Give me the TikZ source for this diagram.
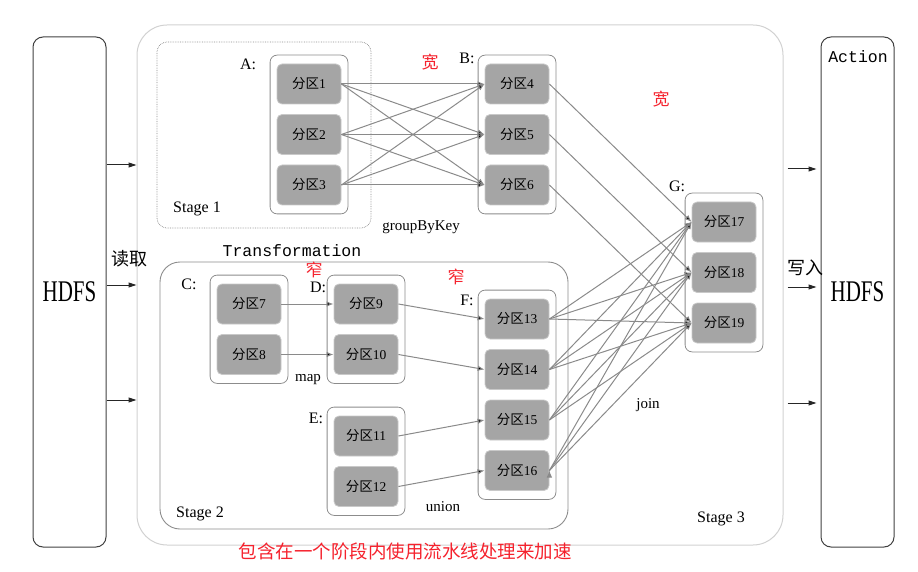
\documentclass[tikz,border=0pt]{standalone}
\usepackage{fontspec}
\setmainfont{Liberation Serif}
\setmonofont{Liberation Mono}
\newfontfamily\cjk{Noto Sans CJK SC}
\usetikzlibrary{positioning,fit,arrows.meta}

\definecolor{partgray}{HTML}{A5A5A5}
\definecolor{linegray}{HTML}{8A8A8A}
\definecolor{boxgray}{HTML}{8C8C8C}
\definecolor{hintred}{HTML}{F5222D}

\newcommand{\fq}[1]{{\cjk 分区}#1}

\tikzset{
  part/.style={rectangle, rounded corners=5pt, fill=partgray, draw=partgray!60,
    line width=0.8pt, minimum width=64pt, minimum height=40pt, inner sep=0pt,
    font=\fontsize{13.5}{15}\selectfont},
  group/.style={rectangle, rounded corners=7pt, draw=boxgray, line width=0.8pt,
    inner xsep=6.5pt, inner ysep=8.5pt},
  store/.style={rectangle, rounded corners=10pt, draw=black!75, line width=1pt,
    minimum width=73pt, minimum height=510pt, inner sep=0pt},
  lbl/.style={font=\fontsize{16}{18}\selectfont},
  op/.style={font=\fontsize{15}{17}\selectfont},
  hint/.style={text=hintred, font=\cjk\fontsize{17}{19}\selectfont},
  flow/.style={draw=linegray, line width=1pt, -{Latex[length=7pt,width=5.5pt]}},
  io/.style={draw=black!85, line width=1pt, -{Triangle[length=8pt,width=5pt]}},
}

\begin{document}
\begin{tikzpicture}[x=1pt,y=-1pt,node distance=50.5pt,on grid]
   \useasboundingbox (0,0) rectangle (918,572);

   % stages
   \node[rectangle, rounded corners=30pt, draw=black!18, line width=1pt,
     minimum width=646pt, minimum height=520pt, inner sep=0pt] (s3) at (460,285) {};
   \node[rectangle, rounded corners=10pt, draw=black!45, densely dotted, line width=0.7pt,
     minimum width=214pt, minimum height=186pt, inner sep=0pt] (s1) at (264,135) {};
   \node[rectangle, rounded corners=20pt, draw=boxgray, line width=0.9pt,
     minimum width=408pt, minimum height=267pt, inner sep=0pt] (s2) at (364,395.5) {};

   % HDFS
   \node[store] (hdfsL) at (69.5,292) {\scalebox{0.7}[1]{\fontsize{30}{30}\selectfont HDFS}};
   \node[store] (hdfsR) at (857.5,292) {\scalebox{0.7}[1]{\fontsize{30}{30}\selectfont HDFS}};
   \node[font=\ttfamily\fontsize{16.5}{18}\selectfont] (act) at (858,57) {Action};

   % partitions
   \node[part] (p1) at (309,84) {\fq1};
   \node[part] (p2) [below=of p1] {\fq2};
   \node[part] (p3) [below=of p2] {\fq3};
   \node[part] (p4) [right=208pt of p1] {\fq4};
   \node[part] (p5) [below=of p4] {\fq5};
   \node[part] (p6) [below=of p5] {\fq6};

   \node[part] (p7) at (249,304) {\fq7};
   \node[part] (p8) [below=of p7] {\fq8};
   \node[part] (p9) [right=117pt of p7] {\fq9};
   \node[part] (p10) [below=of p9] {\fq{10}};
   \node[part] (p11) at (366,436) {\fq{11}};
   \node[part] (p12) [below=of p11] {\fq{12}};

   \node[part] (p13) at (517,319) {\fq{13}};
   \node[part] (p14) [below=of p13] {\fq{14}};
   \node[part] (p15) [below=of p14] {\fq{15}};
   \node[part] (p16) [below=of p15] {\fq{16}};

   \node[part] (p17) at (724,222) {\fq{17}};
   \node[part] (p18) [below=of p17] {\fq{18}};
   \node[part] (p19) [below=of p18] {\fq{19}};

   % RDDs
   \node[group, fit=(p1)(p3)] (A) {};
   \node[group, fit=(p4)(p6)] (B) {};
   \node[group, fit=(p7)(p8)] (C) {};
   \node[group, fit=(p9)(p10)] (D) {};
   \node[group, fit=(p11)(p12)] (E) {};
   \node[group, fit=(p13)(p16)] (F) {};
   \node[group, fit=(p17)(p19)] (G) {};

   \node[lbl] (labA) at (248,64) {A:};
   \node[lbl] (labB) at (467,58) {B:};
   \node[lbl] (labC) at (189,284) {C:};
   \node[lbl] (labD) at (318,287) {D:};
   \node[lbl] (labE) at (316,418) {E:};
   \node[lbl] (labF) at (467,300) {F:};
   \node[lbl] (labG) at (677,186) {G:};

   \node[lbl] (st1) at (197,209) {Stage 1};
   \node[lbl] (st2) at (200,514) {Stage 2};
   \node[lbl] (st3) at (721,519) {Stage 3};

   \node[op] (gbk) at (421,227) {groupByKey};
   \node[op] (map) at (308,380) {map};
   \node[op] (uni) at (443,507) {union};
   \node[op] (join) at (648,405) {join};

   \node[font=\ttfamily\fontsize{16.5}{18}\selectfont] (trans) at (292,251) {Transformation};

   \node[hint] (w1) at (430,62) {宽};
   \node[hint] (w2) at (661,99) {宽};
   \node[hint] (n1) at (314,269.5) {窄};
   \node[hint] (n2) at (456,277) {窄};

   \node[font=\cjk\fontsize{18}{20}\selectfont] (rd) at (129,259) {读取};
   \node[font=\cjk\fontsize{18}{20}\selectfont] (wr) at (805,268) {写入};
   \node[font=\cjk\fontsize{18.5}{20}\selectfont, text=hintred] (note) at (405,551)
     {包含在一个阶段内使用流水线处理来加速};

   % dependencies
   \path[flow]
     (p1.east) edge (p4.west) edge (p5.west) edge (p6.west)
     (p2.east) edge (p4.west) edge (p5.west) edge (p6.west)
     (p3.east) edge (p4.west) edge (p5.west) edge (p6.west)
     (p7.east) edge (p9.west)
     (p8.east) edge (p10.west)
     (p9.east) edge (p13.west)
     (p10.east) edge (p14.west)
     (p11.east) edge (p15.west)
     (p12.east) edge (p16.west)
     (p4.east) edge (p17.west)
     (p5.east) edge (p18.west)
     (p6.east) edge (p19.west)
     (p13.east) edge (p17.west) edge (p18.west) edge (p19.west)
     (p14.east) edge (p17.west) edge (p18.west) edge (p19.west)
     (p15.east) edge (p17.west) edge (p18.west) edge (p19.west)
     (p16.east) edge (p17.west) edge (p18.west) edge (p19.west);

   % read / write
   \draw[io] (hdfsL.east |- 0,165) -- (s3.west |- 0,165);
   \draw[io] (hdfsL.east |- 0,285) -- (s3.west |- 0,285);
   \draw[io] (hdfsL.east |- 0,400) -- (s3.west |- 0,400);
   \draw[io, shorten >=4pt] ([xshift=4pt]s3.east |- 0,169) -- (hdfsR.west |- 0,169);
   \draw[io, shorten >=4pt] ([xshift=4pt]s3.east |- 0,287) -- (hdfsR.west |- 0,287);
   \draw[io, shorten >=4pt] ([xshift=4pt]s3.east |- 0,403) -- (hdfsR.west |- 0,403);
\end{tikzpicture}
\end{document}
